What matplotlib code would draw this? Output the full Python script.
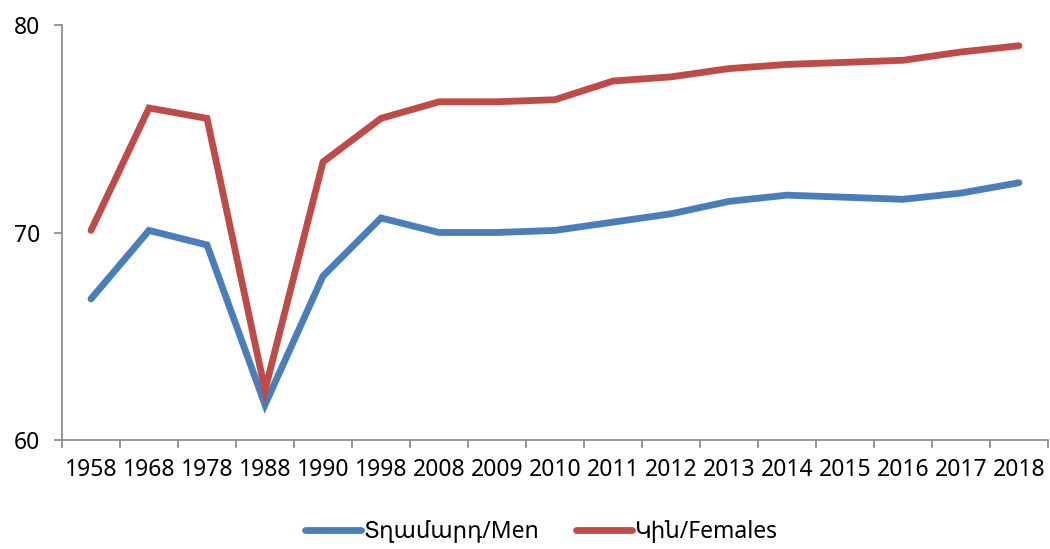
import matplotlib
matplotlib.use("Agg")
import matplotlib.pyplot as plt
import numpy as np

plt.rcParams['font.family'] = ['Noto Sans', 'DejaVu Sans']

years = ["1958", "1968", "1978", "1988", "1990", "1998", "2008", "2009", "2010",
         "2011", "2012", "2013", "2014", "2015", "2016", "2017", "2018"]
men = [66.8, 70.1, 69.4, 61.7, 67.9, 70.7, 70.0, 70.0, 70.1,
       70.5, 70.9, 71.5, 71.8, 71.7, 71.6, 71.9, 72.4]
women = [70.1, 76.0, 75.5, 62.4, 73.4, 75.5, 76.3, 76.3, 76.4,
         77.3, 77.5, 77.9, 78.1, 78.2, 78.3, 78.7, 79.0]

fig = plt.figure(figsize=(10.5, 5.49), dpi=100)
ax = fig.add_axes([62/1050, 1-440/549, 986/1050, 415/549])

x = np.arange(len(years))
ax.plot(x, men, color="#4a7ebb", lw=4.9, solid_capstyle="round", solid_joinstyle="miter",
        label="Տղամարդ/Men")
ax.plot(x, women, color="#be4b48", lw=4.9, solid_capstyle="round", solid_joinstyle="miter",
        label="Կին/Females")

ax.set_xlim(-0.5, len(years) - 0.5)
ax.set_ylim(60, 80)
ax.set_yticks([60, 70, 80])
ax.set_xticks(x)
ax.set_xticklabels(years)
ax.set_xticks(np.arange(len(years) + 1) - 0.5, minor=True)
ax.tick_params(axis="x", which="major", length=0, pad=13, labelsize=16.5)
ax.tick_params(axis="x", which="minor", length=6, color="#868686", width=1.2)
ax.tick_params(axis="y", length=6, color="#868686", width=1.2, labelsize=16.5, pad=10)

for s in ["top", "right"]:
    ax.spines[s].set_visible(False)
for s in ["left", "bottom"]:
    ax.spines[s].set_color("#868686")
    ax.spines[s].set_linewidth(1.2)

fig.legend(loc="center", bbox_to_anchor=(541/1050, 1 - 532/549), ncol=2, frameon=False,
           fontsize=16.5, handlelength=2.45, columnspacing=1.6, handletextpad=0.1)

fig.savefig("out.png", dpi=100)
